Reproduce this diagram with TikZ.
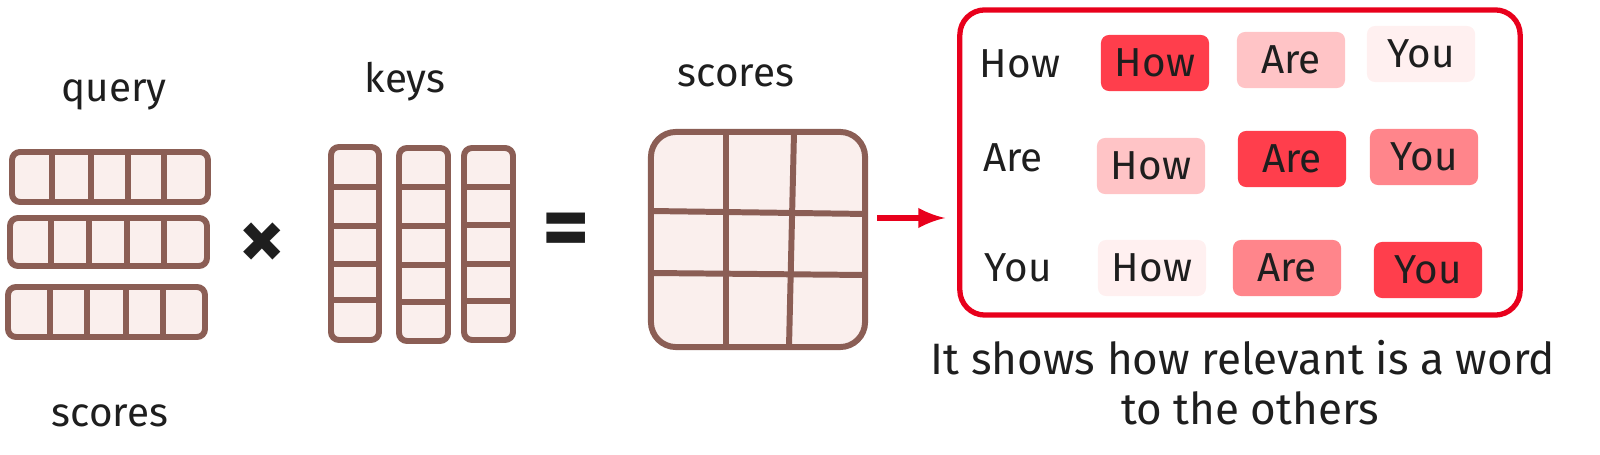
\documentclass[tikz,border=0pt]{standalone}
\usepackage{fontspec}
\setmainfont{Fira Sans}
\definecolor{brownline}{RGB}{139,94,85}
\definecolor{cellfill}{RGB}{250,239,237}
\definecolor{inkblack}{RGB}{30,30,30}
\definecolor{redline}{RGB}{232,0,28}
\definecolor{hot}{RGB}{255,62,76}
\definecolor{warm}{RGB}{255,133,139}
\definecolor{mild}{RGB}{255,196,198}
\definecolor{cool}{RGB}{255,240,240}

\begin{document}
\begin{tikzpicture}[x=0.01cm, y=-0.01cm,
    cell/.style={draw=brownline, fill=cellfill, line width=1.7pt, rounded corners=0.08cm},
    bar/.style={draw=brownline, line width=1.7pt},
    label/.style={anchor=base, text=inkblack, font=\fontsize{11.5}{14}\selectfont},
    sign/.style={text=inkblack, font=\fontsize{26}{26}\selectfont\bfseries},
    word/.style={text=inkblack, font=\fontsize{11.5}{14}\selectfont, minimum width=1.08cm,
      minimum height=0.56cm, inner sep=0pt, rounded corners=0.08cm},
    redbox/.style={draw=redline, line width=1.5pt, rounded corners=0.25cm,
      minimum width=5.6cm, minimum height=3.05cm},
    redarrow/.style={draw=redline, line width=1.6pt, -latex, shorten >=0.12cm}]
  \useasboundingbox (0,0) rectangle (1600,455);

  \node[label] (query) at (114,102) {query};
  \node[label] (keys) at (405,93) {keys};
  \node[label] (scores) at (736,87) {scores};
  \node[label] (scoresbelow) at (110,427) {scores};

  \draw[cell] (12,152) rectangle (208,202);
  \draw[bar] (52,152)--(52,202) (91,152)--(91,202) (128,152)--(128,202) (164,152)--(164,202);
  \draw[cell] (10,218) rectangle (207,266);
  \draw[bar] (51,218)--(51,266) (89,218)--(89,266) (127,218)--(127,266) (164,218)--(164,266);
  \draw[cell] (8,287) rectangle (205,337);
  \draw[bar] (50,287)--(50,337) (87,287)--(87,337) (126,287)--(126,337) (163,287)--(163,337);

  \node[sign] (times) at (262,246) {×};

  \draw[cell] (331,147) rectangle (379,340);
  \draw[bar] (331,187)--(379,187) (331,226)--(379,226) (331,264)--(379,264) (331,300)--(379,300);
  \draw[cell] (399,148) rectangle (448,341);
  \draw[bar] (399,187)--(448,187) (399,226)--(448,226) (399,265)--(448,265) (399,302)--(448,302);
  \draw[cell] (464,148) rectangle (513,340);
  \draw[bar] (464,187)--(513,187) (464,225)--(513,225) (464,264)--(513,264) (464,301)--(513,301);

  \node[sign] (equals) at (566,236) {=};

  \node[cell, rounded corners=0.25cm, minimum width=2.14cm, minimum height=2.15cm] (grid) at (758,239.5) {};
  \draw[bar] (726,132)--(726,347) (794,132)--(789,347);
  \draw[bar] (651,211)--(867,214) (651,273)--(865,275);

  \node[redbox] (table) at (1240,162.5) {};
  \coordinate (arrowstart) at (877,218);
  \draw[redarrow] (arrowstart) -- (arrowstart -| table.west);

  \node[label] (rowhow) at (1020,78) {How};
  \node[label] (roware) at (1013,172) {Are};
  \node[label] (rowyou) at (1018,282) {You};

  \node[word, fill=hot] (howhow) at (1155,63) {How};
  \node[word, fill=mild] (howare) at (1291,60) {Are};
  \node[word, fill=cool] (howyou) at (1421,54) {You};
  \node[word, fill=mild] (arehow) at (1151,166) {How};
  \node[word, fill=hot] (areare) at (1292,159) {Are};
  \node[word, fill=warm] (areyou) at (1424,157) {You};
  \node[word, fill=cool] (youhow) at (1152,268) {How};
  \node[word, fill=warm] (youare) at (1287,268) {Are};
  \node[word, fill=hot] (youyou) at (1428,270) {You};

  \node[label, font=\fontsize{12.5}{15}\selectfont] (caption) at (1243,375) {It shows how relevant is a word};
  \node[label, font=\fontsize{12.5}{15}\selectfont] (captionend) at (1250,425) {to the others};
\end{tikzpicture}
\end{document}
